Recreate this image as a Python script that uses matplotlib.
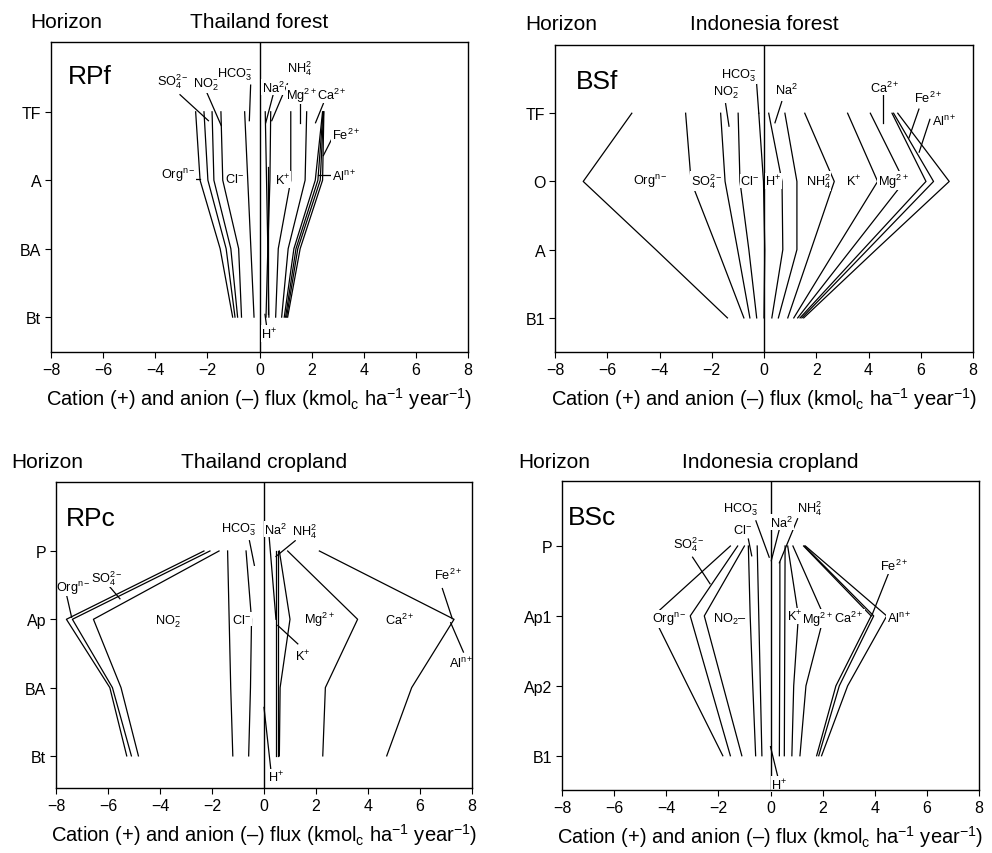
import matplotlib
matplotlib.use("Agg")
import matplotlib.pyplot as plt

plt.rcParams['font.family'] = ['Liberation Sans', 'DejaVu Sans']
plt.rcParams['mathtext.fontset'] = 'custom'
plt.rcParams['mathtext.rm'] = 'Liberation Sans'
plt.rcParams['mathtext.it'] = 'Liberation Sans:italic'
plt.rcParams['mathtext.bf'] = 'Liberation Sans:bold'
plt.rcParams['mathtext.default'] = 'regular'

# ------------------------------------------------------------------ data
x_ticks = [-8, -6, -4, -2, 0, 2, 4, 6, 8]
x_label = "Cation (+) and anion (\u2013) flux (kmol$_c$ ha$^{-1}$ year$^{-1}$)"
titles = ["Thailand forest", "Indonesia forest", "Thailand cropland", "Indonesia cropland"]
codes = ["RPf", "BSf", "RPc", "BSc"]

# Thailand forest (RPf): cumulative boundary lines, x value at each horizon
rpf_horizons = ["TF", "A", "BA", "Bt"]
rpf_anion_lines = [
    [-2.45, -2.28, -1.51, -1.03],
    [-2.13, -1.98, -1.28, -0.94],
    [-1.82, -1.75, -1.10, -0.84],
    [-1.48, -1.41, -0.80, -0.69],
    [-0.57, -0.45, -0.33, -0.21],
]
rpf_cation_lines = [
    [0.22, 0.27, 0.32, 0.36],
    [0.43, 0.40, 0.32, 0.25],
    [1.20, 1.20, 0.72, 0.62],
    [1.81, 1.75, 1.10, 0.85],
    [2.42, 2.14, 1.32, 0.95],
    [2.44, 2.24, 1.40, 1.00],
    [2.46, 2.33, 1.47, 1.04],
    [2.47, 2.42, 1.56, 1.08],
]
rpf_partial_x = [[0.34, 0.34]]
rpf_partial_depth = [[0.80, 2.95]]

# Indonesia forest (BSf)
bsf_horizons = ["TF", "O", "A", "B1"]
bsf_anion_lines = [
    [-5.06, -6.92, -4.14, -1.40],
    [-3.00, -2.79, -1.77, -0.77],
    [-1.66, -1.49, -1.01, -0.54],
    [-0.99, -0.92, -0.58, -0.28],
    [-0.20, -0.02, 0.03, 0.00],
]
bsf_cation_lines = [
    [0.18, 0.69, 0.72, 0.30],
    [0.80, 1.26, 1.26, 0.55],
    [1.56, 2.69, 1.80, 0.91],
    [3.20, 4.35, 2.74, 1.14],
    [4.07, 5.37, 3.33, 1.29],
    [4.90, 6.20, 3.79, 1.38],
    [4.96, 6.49, 3.97, 1.45],
    [5.12, 7.09, 4.29, 1.52],
]
bsf_partial_x = []
bsf_partial_depth = []

# Thailand cropland (RPc)
rpc_horizons = ["P", "Ap", "BA", "Bt"]
rpc_anion_lines = [
    [-2.31, -7.60, -5.93, -5.28],
    [-2.08, -7.37, -5.83, -5.10],
    [-1.73, -6.56, -5.50, -4.83],
    [-1.40, -1.34, -1.28, -1.20],
    [-0.69, -0.48, -0.52, -0.59],
]
rpc_cation_lines = [
    [0.45, 0.45, 0.45, 0.45],
    [0.55, 0.55, 0.55, 0.55],
    [0.59, 1.00, 0.62, 0.59],
    [0.91, 3.60, 2.36, 2.26],
    [2.13, 7.31, 5.68, 4.72],
]
rpc_partial_x = []
rpc_partial_depth = []

# Indonesia cropland (BSc)
bsc_horizons = ["P", "Ap1", "Ap2", "B1"]
bsc_anion_lines = [
    [-1.54, -4.50, -3.17, -1.83],
    [-1.26, -3.08, -2.31, -1.54],
    [-1.00, -2.54, -1.82, -1.10],
    [-0.85, -0.78, -0.68, -0.57],
    [-0.51, -0.45, -0.39, -0.33],
]
bsc_cation_lines = [
    [0.56, 0.55, 0.54, 0.53],
    [0.66, 1.07, 0.89, 0.82],
    [0.86, 2.05, 1.36, 1.13],
    [1.27, 3.86, 2.51, 1.77],
    [1.30, 3.96, 2.64, 1.85],
    [1.34, 4.46, 2.96, 1.96],
]
bsc_partial_x = [[0.36, 0.36, 0.35, 0.34]]
bsc_partial_depth = [[0.23, 1.0, 2.0, 3.0]]

# ------------------------------------------------------------------ labels / leader lines (layout)
ORG = "Org$^{n-}$"; SO4 = "SO$_4^{2-}$"; NO2 = "NO$_2^{-}$"; CL = "Cl$^{-}$"
HCO3 = "HCO$_3^{-}$"; NA = "Na$^2$"; NH4 = "NH$_4^2$"; K = "K$^{+}$"; H = "H$^{+}$"
MG = "Mg$^{2+}$"; CA = "Ca$^{2+}$"; FE = "Fe$^{2+}$"; AL = "Al$^{n+}$"

rpf_labels = [(SO4, -3.31, -0.46), (NO2, -2.05, -0.41), (HCO3, -0.94, -0.56),
              (NH4, 1.53, -0.64), (NA, 0.53, -0.36), (MG, 1.62, -0.25), (CA, 2.77, -0.25),
              (FE, 3.31, 0.33), (AL, 3.24, 0.93), (ORG, -3.12, 0.91), (CL, -0.94, 0.98),
              (K, 0.89, 0.99), (H, 0.38, 3.24)]
rpf_leaders = [((-3.05, -0.25), (-1.96, 0.13)), ((-2.02, -0.28), (-1.47, 0.20)),
               ((-0.34, -0.39), (-0.39, 0.13)), ((1.07, -0.41), (0.47, 0.13)),
               ((0.53, -0.26), (0.24, 0.16)), ((1.55, -0.13), (1.55, 0.16)),
               ((2.45, -0.12), (2.15, 0.16)), ((2.81, 0.37), (2.45, 0.64)),
               ((2.70, 0.92), (2.26, 0.92)), ((-2.60, 0.98), (-2.28, 0.98)),
               ((0.21, 2.96), (0.28, 3.15))]

bsf_labels = [(HCO3, -0.98, -0.56), (NO2, -1.45, -0.31), (NA, 0.87, -0.35),
              (CA, 4.63, -0.38), (FE, 6.29, -0.23), (AL, 6.90, 0.11),
              (ORG, -4.36, 0.99), (SO4, -2.19, 0.99), (CL, -0.54, 0.99), (H, 0.36, 0.99),
              (NH4, 2.08, 0.99), (K, 3.42, 0.99), (MG, 4.95, 0.99)]
bsf_leaders = [((-0.28, -0.42), (-0.20, 0.0)), ((-1.47, -0.14), (-1.34, 0.19)),
               ((0.68, -0.17), (0.42, 0.14)), ((4.57, -0.28), (4.57, 0.14)),
               ((5.93, -0.06), (5.55, 0.36)), ((6.35, 0.09), (5.94, 0.57))]

rpc_labels = [(HCO3, -0.99, -0.32), (NA, 0.46, -0.32), (NH4, 1.55, -0.30),
              (ORG, -7.33, 0.53), (SO4, -6.05, 0.39), (NO2, -3.68, 1.02), (CL, -0.86, 1.0),
              (MG, 2.15, 1.0), (CA, 5.23, 1.0), (K, 1.49, 1.53), (FE, 7.09, 0.34),
              (AL, 7.60, 1.63), (H, 0.46, 3.31)]
rpc_leaders = [((-0.56, -0.15), (-0.37, 0.21)), ((0.20, -0.20), (0.46, 1.0)),
               ((1.20, -0.15), (0.46, 0.08)), ((-7.59, 0.65), (-7.40, 0.97)),
               ((-6.01, 0.49), (-5.54, 0.70)), ((0.53, 1.09), (1.30, 1.36)),
               ((6.86, 0.55), (7.24, 0.99)), ((7.18, 1.05), (7.67, 1.48)),
               ((0.0, 2.29), (0.26, 3.19))]

bsc_labels = [(SO4, -3.12, -0.03), (CL, -1.07, -0.24), (HCO3, -1.13, -0.53),
              (NA, 0.44, -0.34), (NH4, 1.49, -0.55), (FE, 4.75, 0.28),
              (ORG, -3.88, 1.04), ("NO$_2$\u2013", -1.58, 1.03), (K, 0.91, 1.0),
              (MG, 1.81, 1.04), (CA, 3.02, 1.02), (AL, 4.94, 1.02), (H, 0.34, 3.41)]
bsc_leaders = [((-2.99, 0.16), (-2.32, 0.54)), ((-0.85, -0.10), (-0.72, 0.14)),
               ((-0.56, -0.36), (-0.05, 0.16)), ((0.34, -0.24), (0.03, 0.21)),
               ((1.04, -0.39), (0.34, 0.24)), ((4.52, 0.40), (3.88, 1.0)),
               ((0.0, 2.87), (0.28, 3.30))]

# ------------------------------------------------------------------ figure
W, H_ = 992, 854
fig = plt.figure(figsize=(W / 100, H_ / 100), dpi=100)

def px_axes(l, t, r, b):
    return fig.add_axes([l / W, 1 - b / H_, (r - l) / W, (b - t) / H_])

def fig_text(x, y, s, **kw):
    fig.text(x / W, 1 - y / H_, s, **kw)

panels = [
    dict(box=(51, 43, 468, 353), horizons=rpf_horizons, an=rpf_anion_lines, ca=rpf_cation_lines,
         px=rpf_partial_x, pd=rpf_partial_depth, labels=rpf_labels, leaders=rpf_leaders,
         code_pos=(-7.34, -0.53), hor_x=30, top_y=23, ylim=(3.51, -1.02)),
    dict(box=(555, 46, 973, 353), horizons=bsf_horizons, an=bsf_anion_lines, ca=bsf_cation_lines,
         px=bsf_partial_x, pd=bsf_partial_depth, labels=bsf_labels, leaders=bsf_leaders,
         code_pos=(-7.20, -0.47), hor_x=525, top_y=24, ylim=(3.50, -1.0)),
    dict(box=(56, 483, 472, 789), horizons=rpc_horizons, an=rpc_anion_lines, ca=rpc_cation_lines,
         px=rpc_partial_x, pd=rpc_partial_depth, labels=rpc_labels, leaders=rpc_leaders,
         code_pos=(-7.63, -0.49), hor_x=11, top_y=463, ylim=(3.47, -1.01)),
    dict(box=(562, 482, 979, 791), horizons=bsc_horizons, an=bsc_anion_lines, ca=bsc_cation_lines,
         px=bsc_partial_x, pd=bsc_partial_depth, labels=bsc_labels, leaders=bsc_leaders,
         code_pos=(-7.78, -0.41), hor_x=518, top_y=463, ylim=(3.49, -0.93)),
]

LW = 0.9
for i, p in enumerate(panels):
    l, t, r, b = p['box']
    ax = px_axes(l, t, r, b)
    depth = list(range(len(p['horizons'])))
    for xs in p['an'] + p['ca']:
        ax.plot(xs, depth, color='black', lw=LW, zorder=2)
    for xs, ds in zip(p['px'], p['pd']):
        ax.plot(xs, ds, color='black', lw=LW, zorder=2)
    for (x1, y1), (x2, y2) in p['leaders']:
        ax.plot([x1, x2], [y1, y2], color='black', lw=LW, zorder=2)
    ax.axvline(0, color='black', lw=1.0, zorder=2.1)
    for s, x, y in p['labels']:
        ax.text(x, y, s, ha='center', va='center', fontsize=9.2, zorder=2.2,
                bbox=dict(fc='white', ec='none', pad=0.4))
    ax.text(p['code_pos'][0], p['code_pos'][1], codes[i], ha='left', va='center',
            fontsize=19, zorder=2.2)
    ax.set_xlim(-8, 8)
    ax.set_ylim(*p['ylim'])
    ax.set_xticks(x_ticks)
    ax.set_yticks(depth)
    ax.set_yticklabels(p['horizons'])
    ax.tick_params(direction='out', length=4, width=0.8, labelsize=11.5, pad=3)
    for sp in ax.spines.values():
        sp.set_linewidth(1.0)
        sp.set_zorder(3)
    ax.set_xlabel(x_label, fontsize=14.5, labelpad=6)
    fig_text(p['hor_x'], p['top_y'], "Horizon", ha='left', va='center', fontsize=15)
    fig_text((l + r) / 2, p['top_y'], titles[i], ha='center', va='center', fontsize=15)

fig.savefig("out.png", dpi=100)
